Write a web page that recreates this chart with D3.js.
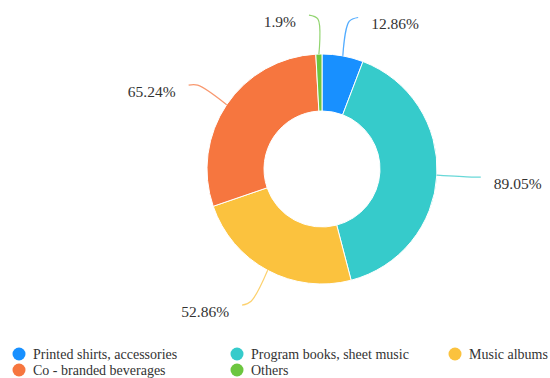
<!DOCTYPE html>
<html>
  <head>
    <script src="https://d3js.org/d3.v7.min.js" charset="utf-8"></script>
    <meta charset="UTF-8">
    <title>donut</title>
    <style>
      body { margin: 0; background: #fff; }
    </style>
  </head>
  <body>
    <svg class="chart"></svg>
    <script type="text/javascript">

      var categories = ["Printed shirts, accessories", "Program books, sheet music", "Music albums", "Co - branded beverages", "Others"];
      var values = [12.86, 89.05, 52.86, 65.24, 1.9];
      var labels = ["12.86%", "89.05%", "52.86%", "65.24%", "1.9%"];
      var colors = ["#1890ff", "#36cbcb", "#fbc23e", "#f6763f", "#6cc63f"];

      var width = 550,
          height = 378,
          cx = 322,
          cy = 169,
          outerR = 115,
          innerR = 58,
          len1 = 35,
          len2 = 9,
          serif = "'Liberation Serif', 'DejaVu Serif', 'Times New Roman', serif";

      var chart = d3.select(".chart")
          .attr("width", width)
          .attr("height", height);

      var pie = d3.pie().sort(null).value(function(d) { return d; });
      var arcs = pie(values);
      var arc = d3.arc().innerRadius(innerR).outerRadius(outerR);

      var g = chart.append("g").attr("transform", "translate(" + cx + "," + cy + ")");

      g.selectAll("path.slice")
          .data(arcs)
          .enter().append("path")
          .attr("class", "slice")
          .attr("d", arc)
          .attr("fill", function(d, i) { return colors[i]; })
          .attr("stroke", "#fff")
          .attr("stroke-width", 1);

      function pt(a, r) { return [r * Math.sin(a), -r * Math.cos(a)]; }

      var line = d3.line().curve(d3.curveCatmullRom.alpha(0.5));

      var lbl = arcs.map(function(d, i) {
        var a = (d.startAngle + d.endAngle) / 2;
        var p0 = pt(a, outerR), p1 = pt(a, outerR + len1);
        var side = Math.sin(a) >= 0 ? 1 : -1;
        var p2 = [p1[0] + side * len2, p1[1] - (Math.abs(Math.cos(a)) > 0.8 ? 4 * Math.sign(Math.cos(a)) : 0)];
        return {i: i, pts: [p0, p1, p2], side: side};
      });

      g.selectAll("path.leader")
          .data(lbl)
          .enter().append("path")
          .attr("class", "leader")
          .attr("d", function(d) { return line(d.pts); })
          .attr("fill", "none")
          .attr("stroke", function(d) { return colors[d.i]; })
          .attr("stroke-opacity", 0.75)
          .attr("stroke-width", 1.2);

      g.selectAll("text.value")
          .data(lbl)
          .enter().append("text")
          .attr("class", "value")
          .attr("x", function(d) { return d.pts[2][0] + d.side * 13; })
          .attr("y", function(d) { return d.pts[2][1] + 6; })
          .attr("dominant-baseline", "central")
          .attr("text-anchor", function(d) { return d.side > 0 ? "start" : "end"; })
          .attr("font-family", serif)
          .attr("font-size", 15.5)
          .attr("fill", "#333")
          .text(function(d) { return labels[d.i]; });

      // legend, 3 per row
      var legend = chart.append("g").attr("class", "legend")
          .selectAll("g")
          .data(categories)
          .enter().append("g")
          .attr("transform", function(d, i) {
            return "translate(" + (19 + (i % 3) * 218) + "," + (354 + Math.floor(i / 3) * 16) + ")";
          });

      legend.append("circle")
          .attr("r", 6.5)
          .attr("fill", function(d, i) { return colors[i]; });

      legend.append("text")
          .attr("x", 14)
          .attr("dy", "0.35em")
          .attr("font-family", serif)
          .attr("font-size", 14)
          .attr("fill", "#333")
          .text(function(d) { return d; });

    </script>
  </body>
</html>
